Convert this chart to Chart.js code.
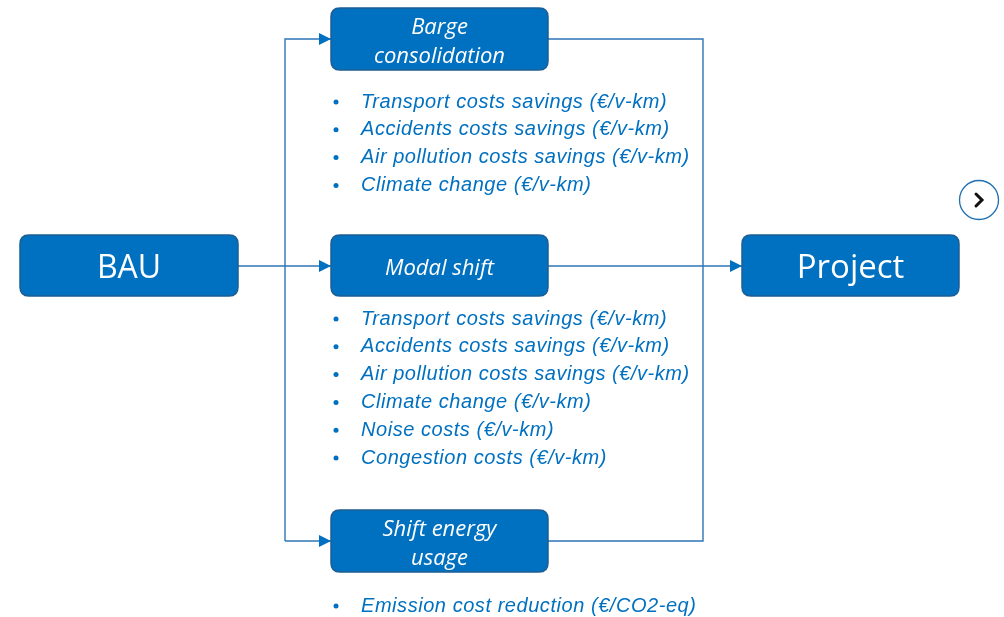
<!DOCTYPE html>
<html lang="en">
<head>
    <meta charset="UTF-8">
    <title>BAU to Project</title>
    <script src="https://cdn.jsdelivr.net/npm/chart.js"></script>
    <style>
        body {
            margin: 0;
            background: #ffffff;
        }
        #wrap {
            width: 1004px;
            height: 617px;
        }
    </style>
</head>
<body>
    <div id="wrap"><canvas id="flow" width="1004" height="617"></canvas></div>

    <script>
        // Diagram content
        const nodeNames = ['BAU', 'Barge\nconsolidation', 'Modal shift', 'Shift energy\nusage', 'Project'];
        const bargeItems = [
            'Transport costs savings (€/v-km)',
            'Accidents costs savings (€/v-km)',
            'Air pollution costs savings (€/v-km)',
            'Climate change (€/v-km)'
        ];
        const modalItems = [
            'Transport costs savings (€/v-km)',
            'Accidents costs savings (€/v-km)',
            'Air pollution costs savings (€/v-km)',
            'Climate change (€/v-km)',
            'Noise costs (€/v-km)',
            'Congestion costs (€/v-km)'
        ];
        const energyItems = ['Emission cost reduction (€/CO2-eq)'];

        // Layout (page units, y downward)
        const boxes = [
            { x: 20, y: 235, w: 218, h: 61, font: '32px "Open Sans"' },
            { x: 331, y: 8, w: 217, h: 62, font: 'italic 22px "Open Sans"' },
            { x: 331, y: 235, w: 217, h: 61, font: 'italic 22px "Open Sans"' },
            { x: 331, y: 510, w: 217, h: 62, font: 'italic 22px "Open Sans"' },
            { x: 742, y: 235, w: 217, h: 61, font: '33px "Open Sans"' }
        ];
        const lists = [
            { items: bargeItems, x: 336, y: 102 },
            { items: modalItems, x: 336, y: 319 },
            { items: energyItems, x: 336, y: 606 }
        ];
        const lineStep = 27.8;
        const connectors = [
            [{ x: 238, y: 266 }, { x: 331, y: 266 }],
            [{ x: 285, y: 541 }, { x: 285, y: 39 }, { x: 331, y: 39 }],
            [{ x: 285, y: 541 }, { x: 331, y: 541 }],
            [{ x: 548, y: 39 }, { x: 703, y: 39 }, { x: 703, y: 541 }, { x: 548, y: 541 }],
            [{ x: 548, y: 266 }, { x: 742, y: 266 }]
        ];
        const arrowTips = [
            { x: 331, y: 39 }, { x: 331, y: 266 }, { x: 331, y: 541 }, { x: 742, y: 266 }
        ];

        const BLUE = '#0070C0';
        const LINE = '#2E75B6';

        function roundRect(ctx, x, y, w, h, r) {
            ctx.beginPath();
            ctx.moveTo(x + r, y);
            ctx.lineTo(x + w - r, y);
            ctx.quadraticCurveTo(x + w, y, x + w, y + r);
            ctx.lineTo(x + w, y + h - r);
            ctx.quadraticCurveTo(x + w, y + h, x + w - r, y + h);
            ctx.lineTo(x + r, y + h);
            ctx.quadraticCurveTo(x, y + h, x, y + h - r);
            ctx.lineTo(x, y + r);
            ctx.quadraticCurveTo(x, y, x + r, y);
            ctx.closePath();
        }

        const flowPlugin = {
            id: 'flow',
            afterDatasetsDraw(chart) {
                const ctx = chart.ctx;
                const sx = chart.scales.x, sy = chart.scales.y;
                const px = v => sx.getPixelForValue(v);
                const py = v => sy.getPixelForValue(v);
                ctx.save();

                // arrow heads
                ctx.fillStyle = BLUE;
                arrowTips.forEach(t => {
                    const x = px(t.x), y = py(t.y);
                    ctx.beginPath();
                    ctx.moveTo(x, y);
                    ctx.lineTo(x - 12, y - 6);
                    ctx.lineTo(x - 12, y + 6);
                    ctx.closePath();
                    ctx.fill();
                });

                // boxes
                boxes.forEach((b, i) => {
                    const x = px(b.x), y = py(b.y);
                    const w = px(b.x + b.w) - x, h = py(b.y + b.h) - y;
                    roundRect(ctx, x, y, w, h, 9);
                    ctx.fillStyle = BLUE;
                    ctx.fill();
                    ctx.lineWidth = 1.5;
                    ctx.strokeStyle = '#1D5E92';
                    ctx.stroke();
                    ctx.fillStyle = '#ffffff';
                    ctx.font = b.font;
                    ctx.textAlign = 'center';
                    ctx.textBaseline = 'middle';
                    const lines = nodeNames[i].split('\n');
                    const lh = 29;
                    lines.forEach((ln, k) => {
                        ctx.fillText(ln, x + w / 2, y + h / 2 + 3 + (k - (lines.length - 1) / 2) * lh);
                    });
                });

                // bullet lists
                ctx.fillStyle = BLUE;
                ctx.textAlign = 'left';
                ctx.textBaseline = 'middle';
                ctx.letterSpacing = '0.55px';
                lists.forEach(l => {
                    l.items.forEach((txt, k) => {
                        const y = py(l.y + k * lineStep);
                        ctx.beginPath();
                        ctx.arc(px(l.x), y, 2.5, 0, Math.PI * 2);
                        ctx.fill();
                        ctx.font = 'italic 20px "Liberation Sans", Arial, sans-serif';
                        ctx.fillText(txt, px(l.x + 25), y);
                    });
                });
                ctx.letterSpacing = '0px';

                // next button
                const cx = px(979), cy = py(200);
                ctx.beginPath();
                ctx.arc(cx, cy, 19.5, 0, Math.PI * 2);
                ctx.fillStyle = '#ffffff';
                ctx.fill();
                ctx.lineWidth = 1.3;
                ctx.strokeStyle = '#1F6FB0';
                ctx.stroke();
                ctx.beginPath();
                ctx.moveTo(cx - 3, cy - 6);
                ctx.lineTo(cx + 3, cy);
                ctx.lineTo(cx - 3, cy + 6);
                ctx.lineWidth = 3;
                ctx.strokeStyle = '#111111';
                ctx.lineCap = 'round';
                ctx.lineJoin = 'miter';
                ctx.stroke();

                ctx.restore();
            }
        };

        new Chart(document.getElementById('flow'), {
            type: 'scatter',
            data: {
                datasets: connectors.map(pts => ({
                    data: pts,
                    showLine: true,
                    borderColor: LINE,
                    borderWidth: 1.4,
                    pointRadius: 0,
                    tension: 0,
                    fill: false
                }))
            },
            options: {
                responsive: false,
                animation: false,
                events: [],
                layout: { padding: 0 },
                plugins: {
                    legend: { display: false },
                    tooltip: { enabled: false }
                },
                scales: {
                    x: { type: 'linear', min: 0, max: 1004, display: false },
                    y: { type: 'linear', min: 0, max: 617, reverse: true, display: false }
                }
            },
            plugins: [flowPlugin]
        });
    </script>
</body>
</html>
